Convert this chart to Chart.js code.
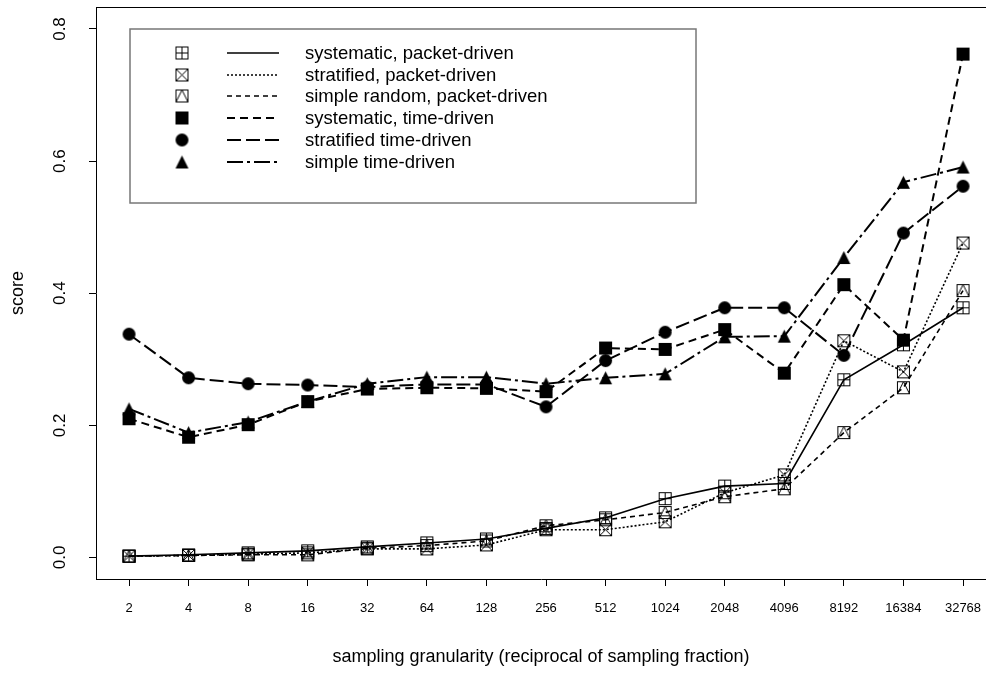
<!DOCTYPE html>
<html>
<head>
<meta charset="utf-8">
<script src="https://cdn.jsdelivr.net/npm/chart.js@4.4.0/dist/chart.umd.min.js"></script>
<style>
  html, body { margin: 0; padding: 0; background: #fff; }
  #wrap { width: 986px; height: 673px; }
</style>
</head>
<body>
<div id="wrap"><canvas id="chart" width="986" height="673"></canvas></div>
<script>
const granularity = ['2', '4', '8', '16', '32', '64', '128', '256', '512', '1024', '2048', '4096', '8192', '16384', '32768'];
const yTickValues = [0, 0.2, 0.4, 0.6, 0.8];

const seriesLabels = [
	'systematic, packet-driven',
	'stratified, packet-driven',
	'simple random, packet-driven',
	'systematic, time-driven',
	'stratified time-driven',
	'simple time-driven'
];

const sysPacket    = [0.002, 0.004, 0.007, 0.010, 0.016, 0.022, 0.028, 0.044, 0.060, 0.089, 0.108, 0.112, 0.269, 0.322, 0.378];
const stratPacket  = [0.002, 0.003, 0.005, 0.007, 0.013, 0.013, 0.019, 0.042, 0.042, 0.054, 0.098, 0.125, 0.328, 0.281, 0.476];
const simplePacket = [0.002, 0.003, 0.004, 0.004, 0.014, 0.018, 0.025, 0.048, 0.057, 0.068, 0.092, 0.104, 0.189, 0.257, 0.404];
const sysTime      = [0.210, 0.182, 0.201, 0.236, 0.255, 0.257, 0.256, 0.251, 0.317, 0.315, 0.345, 0.279, 0.413, 0.329, 0.762];
const stratTime    = [0.338, 0.272, 0.263, 0.261, 0.258, 0.262, 0.262, 0.228, 0.298, 0.341, 0.378, 0.378, 0.306, 0.491, 0.562];
const simpleTime   = [0.225, 0.189, 0.205, 0.236, 0.263, 0.273, 0.273, 0.263, 0.272, 0.278, 0.334, 0.335, 0.454, 0.568, 0.591];

const FONT = '"Liberation Sans", Arial, sans-serif';

// small canvases used as point styles (R pch-like symbols)
function makeMarker(kind, size) {
	const pad = 2;
	const c = document.createElement('canvas');
	c.width = c.height = size + pad * 2;
	const g = c.getContext('2d');
	const a = pad + 0.5, b = pad + size - 0.5, m = pad + Math.floor(size / 2) + 0.5;
	g.strokeStyle = '#000';
	g.fillStyle = '#000';
	g.lineWidth = 1;
	if (kind === 'boxplus' || kind === 'boxx' || kind === 'boxtri') {
		g.strokeRect(a, a, b - a, b - a);
		g.beginPath();
		if (kind === 'boxplus') {
			g.moveTo(m, a); g.lineTo(m, b);
			g.moveTo(a, m); g.lineTo(b, m);
		} else if (kind === 'boxx') {
			g.moveTo(a, a); g.lineTo(b, b);
			g.moveTo(b, a); g.lineTo(a, b);
		} else {
			g.moveTo(a, b); g.lineTo(m, a); g.lineTo(b, b);
		}
		g.stroke();
	} else if (kind === 'square') {
		g.fillRect(pad, pad, size, size);
	} else if (kind === 'circle') {
		g.beginPath();
		g.arc(pad + size / 2, pad + size / 2, size / 2, 0, Math.PI * 2);
		g.fill();
	} else if (kind === 'triangle') {
		g.beginPath();
		g.moveTo(pad + size / 2, pad);
		g.lineTo(pad + size, pad + size);
		g.lineTo(pad, pad + size);
		g.closePath();
		g.fill();
	}
	return c;
}

const markerKinds = ['boxplus', 'boxx', 'boxtri', 'square', 'circle', 'triangle'];
const dashes = [[], [2, 2], [5, 4], [8, 5], [14, 5], [16, 4, 3, 4]];
const widths = [1.6, 1.6, 1.6, 2, 2, 2];
const allSeries = [sysPacket, stratPacket, simplePacket, sysTime, stratTime, simpleTime];

const markers = markerKinds.map(k => makeMarker(k, 13));

const datasets = allSeries.map((vals, i) => ({
	label: seriesLabels[i],
	data: vals.map((v, j) => ({ x: j + 1, y: v })),
	borderColor: '#000',
	backgroundColor: '#000',
	borderWidth: widths[i],
	borderDash: dashes[i],
	pointStyle: markers[i],
	pointRadius: 6,
	tension: 0,
	fill: false,
	clip: false
}));

// R-style legend box, rotated y labels and top frame line
const extrasPlugin = {
	id: 'extras',
	afterDraw(chart) {
		const ctx = chart.ctx;
		const area = chart.chartArea;
		ctx.save();
		ctx.strokeStyle = '#000';
		ctx.lineWidth = 1;
		ctx.beginPath();
		ctx.moveTo(area.left, area.top + 0.5);
		ctx.lineTo(area.right, area.top + 0.5);
		ctx.stroke();

		// y tick labels, rotated like R's default
		const ys = chart.scales.y;
		ctx.fillStyle = '#000';
		ctx.font = '17px ' + FONT;
		ctx.textAlign = 'center';
		ctx.textBaseline = 'middle';
		yTickValues.forEach(v => {
			ctx.save();
			ctx.translate(60, ys.getPixelForValue(v));
			ctx.rotate(-Math.PI / 2);
			ctx.fillText(v.toFixed(1), 0, 0);
			ctx.restore();
		});

		// legend
		ctx.fillStyle = '#fff';
		ctx.fillRect(130, 29, 566, 174);
		ctx.strokeStyle = '#777';
		ctx.lineWidth = 1.5;
		ctx.strokeRect(130, 29, 566, 174);
		ctx.font = '18.5px ' + FONT;
		ctx.textAlign = 'left';
		ctx.fillStyle = '#000';
		chart.data.datasets.forEach((ds, i) => {
			const y = Math.round(53 + i * 21.7);
			const img = ds.pointStyle;
			ctx.drawImage(img, 182 - img.width / 2, y - img.height / 2);
			ctx.save();
			ctx.strokeStyle = '#000';
			ctx.lineWidth = ds.borderWidth;
			ctx.setLineDash(ds.borderDash);
			ctx.beginPath();
			ctx.moveTo(227, y);
			ctx.lineTo(279, y);
			ctx.stroke();
			ctx.restore();
			ctx.fillText(ds.label, 305, y + 1);
		});
		ctx.restore();
	}
};

const config = {
	type: 'line',
	data: { datasets: datasets },
	options: {
		responsive: false,
		animation: false,
		layout: { autoPadding: false, padding: { top: 7, right: 0, left: 0, bottom: 0 } },
		plugins: {
			legend: { display: false },
			tooltip: { enabled: false }
		},
		scales: {
			x: {
				type: 'linear',
				min: 0.446,
				max: 15.386,
				afterFit: (scale) => {
					scale.height = 94;
					scale.paddingLeft = 0;
					scale.paddingRight = 0;
				},
				afterBuildTicks: (scale) => { scale.ticks = granularity.map((g, i) => ({ value: i + 1 })); },
				border: { display: true, color: '#000', width: 1 },
				grid: { display: true, drawOnChartArea: false, drawTicks: true, tickLength: 7, color: '#000' },
				ticks: {
					autoSkip: false,
					maxRotation: 0,
					padding: 15,
					color: '#000',
					font: { size: 13, family: FONT },
					callback: (v) => granularity[v - 1]
				},
				title: {
					display: true,
					text: 'sampling granularity (reciprocal of sampling fraction)',
					color: '#000',
					font: { size: 18, family: FONT },
					padding: { top: 0, bottom: 5 }
				}
			},
			y: {
				type: 'linear',
				min: -0.0326,
				max: 0.8333,
				afterFit: (scale) => {
					scale.width = 96;
					scale.paddingTop = 0;
					scale.paddingBottom = 0;
				},
				afterBuildTicks: (scale) => { scale.ticks = yTickValues.map(v => ({ value: v })); },
				border: { display: true, color: '#000', width: 1 },
				grid: { display: true, drawOnChartArea: false, drawTicks: true, tickLength: 7, color: '#000' },
				ticks: { display: false },
				title: {
					display: true,
					text: 'score',
					color: '#000',
					font: { size: 18, family: FONT },
					padding: { top: 7, bottom: 0 }
				}
			}
		}
	},
	plugins: [extrasPlugin]
};

const myChart = new Chart(document.getElementById('chart'), config);
</script>
</body>
</html>
